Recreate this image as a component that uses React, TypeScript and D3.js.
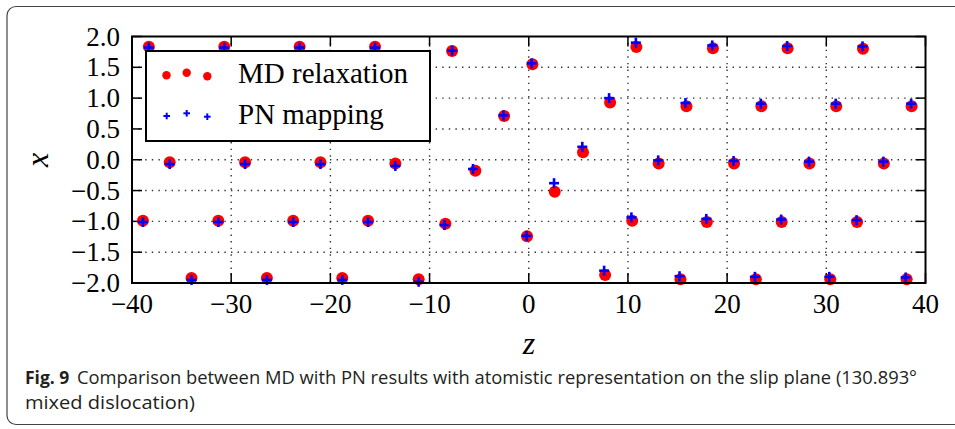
import React from 'react';
import * as d3 from 'd3';

// MD relaxation positions (z, x)
const mdZ = [
	-38.3, -30.7, -23.1, -15.5, 10.85, 18.57, 26.1, 33.7,
	-36.2, -28.6, -21.0, -13.45, 13.1, 20.7, 28.3, 35.8,
	-38.9, -31.3, -23.75, -16.2, -8.4, 10.43, 17.96, 25.5, 33.1,
	-34.0, -26.4, -18.8, -11.1, 7.7, 15.3, 22.9, 30.4, 38.1,
	8.2, 15.9, 23.45, 31.0, 38.6,
	-7.73, 0.37, -2.48, 5.47, -5.38, 2.62, -0.17,
];
const mdX = [
	1.835, 1.835, 1.835, 1.835, 1.83, 1.81, 1.81, 1.8,
	-0.04, -0.04, -0.04, -0.06, -0.06, -0.06, -0.06, -0.06,
	-0.99, -0.99, -0.99, -0.99, -1.04, -0.99, -1.01, -1.01, -1.01,
	-1.92, -1.92, -1.92, -1.94, -1.87, -1.94, -1.94, -1.94, -1.94,
	0.93, 0.87, 0.87, 0.87, 0.87,
	1.765, 1.55, 0.71, 0.12, -0.18, -0.52, -1.24,
];

// PN mapping positions (z, x)
const pnZ = [
	-38.3, -30.7, -23.1, -15.5, 10.8, 18.5, 26.05, 33.65,
	-36.2, -28.6, -21.0, -13.45, 13.05, 20.65, 28.25, 35.75,
	-38.9, -31.3, -23.75, -16.2, -8.5, 10.35, 17.9, 25.45, 33.05,
	-34.0, -26.4, -18.8, -11.1, 7.6, 15.2, 22.8, 30.3, 38.0,
	8.1, 15.8, 23.4, 30.95, 38.55,
	-7.73, 0.3, -2.55, 5.4, -5.62, 2.55, -0.22,
];
const pnX = [
	1.82, 1.82, 1.82, 1.82, 1.9, 1.855, 1.845, 1.84,
	-0.07, -0.07, -0.07, -0.1, -0.01, -0.02, -0.03, -0.03,
	-1.01, -1.01, -1.01, -1.01, -1.06, -0.935, -0.96, -0.97, -0.98,
	-1.95, -1.95, -1.95, -1.98, -1.8, -1.89, -1.9, -1.9, -1.91,
	1.0, 0.92, 0.91, 0.91, 0.91,
	1.77, 1.565, 0.72, 0.21, -0.15, -0.38, -1.235,
];

const zTicks = [-40, -30, -20, -10, 0, 10, 20, 30, 40];
const xTicks = [2.0, 1.5, 1.0, 0.5, 0.0, -0.5, -1.0, -1.5, -2.0];
const seriesNames = ['MD relaxation', 'PN mapping'];

const W = 955;
const H = 429;
const plot = { left: 132, right: 925.5, top: 36.5, bottom: 283 };

const serif = '"Liberation Serif", "DejaVu Serif", serif';
const sans = '"Open Sans", "Noto Sans", sans-serif';

const fmtTick = (v: number, digits: number) =>
	(v < 0 ? '\u2212' : '') + Math.abs(v).toFixed(digits);

function Plus({ cx, cy, s, w }: { cx: number; cy: number; s: number; w: number }) {
	return (
		<g stroke='#0000ff' strokeWidth={w}>
			<line x1={cx - s} x2={cx + s} y1={cy} y2={cy} />
			<line x1={cx} x2={cx} y1={cy - s} y2={cy + s} />
		</g>
	);
}

export default function App() {
	const x = d3.scaleLinear().domain([-40, 40]).range([plot.left, plot.right]);
	const y = d3.scaleLinear().domain([-2, 2]).range([plot.bottom, plot.top]);

	const md = mdZ.map((z, i) => ({ z, v: mdX[i] }));
	const pn = pnZ.map((z, i) => ({ z, v: pnX[i] }));

	const innerZ = zTicks.slice(1, -1);
	const innerX = xTicks.slice(1, -1);
	const tickLen = 10;

	return (
		<svg
			width={W}
			height={H}
			style={{ position: 'absolute', left: 0, top: 0, background: '#fff' }}>
			{/* figure frame */}
			<rect x={7} y={6.5} width={1000} height={418} rx={9} fill='#fff' stroke='#444' strokeWidth={1.2} />

			{/* grid */}
			<g stroke='#333' strokeWidth={1.4} strokeDasharray='1.4,5.2'>
				{innerZ.map((t) => (
					<line key={'gz' + t} x1={x(t)} x2={x(t)} y1={plot.top} y2={plot.bottom} />
				))}
				{innerX.map((t) => (
					<line key={'gx' + t} x1={plot.left} x2={plot.right} y1={y(t)} y2={y(t)} />
				))}
			</g>

			{/* ticks (inward, all sides) */}
			<g stroke='#000' strokeWidth={1.5}>
				{zTicks.map((t) => (
					<g key={'tz' + t}>
						<line x1={x(t)} x2={x(t)} y1={plot.bottom} y2={plot.bottom - tickLen} />
						<line x1={x(t)} x2={x(t)} y1={plot.top} y2={plot.top + tickLen} />
					</g>
				))}
				{xTicks.map((t) => (
					<g key={'tx' + t}>
						<line x1={plot.left} x2={plot.left + tickLen} y1={y(t)} y2={y(t)} />
						<line x1={plot.right} x2={plot.right - tickLen} y1={y(t)} y2={y(t)} />
					</g>
				))}
			</g>

			{/* MD relaxation */}
			<g fill='#ff0000'>
				{md.map((d, i) => (
					<circle key={'md' + i} cx={x(d.z)} cy={y(d.v)} r={6} />
				))}
			</g>

			{/* PN mapping */}
			{pn.map((d, i) => (
				<Plus key={'pn' + i} cx={x(d.z)} cy={y(d.v)} s={5} w={2.6} />
			))}

			{/* axes frame */}
			<rect
				x={plot.left}
				y={plot.top}
				width={plot.right - plot.left}
				height={plot.bottom - plot.top}
				fill='none'
				stroke='#000'
				strokeWidth={2}
			/>

			{/* tick labels */}
			<g fontFamily={serif} fontSize={27} fill='#000'>
				{zTicks.map((t) => (
					<text key={'lz' + t} x={x(t)} y={313} textAnchor='middle'>
						{fmtTick(t, 0)}
					</text>
				))}
				{xTicks.map((t) => (
					<text key={'lx' + t} x={plot.left - 12} y={y(t) + 9} textAnchor='end'>
						{fmtTick(t, 1)}
					</text>
				))}
			</g>

			{/* axis labels */}
			<text x={529} y={354} fontFamily={serif} fontStyle='italic' fontSize={32} textAnchor='middle'>
				z
			</text>
			<text
				transform='translate(48,160) rotate(-90)'
				fontFamily={serif}
				fontStyle='italic'
				fontSize={32}
				textAnchor='middle'>
				x
			</text>

			{/* legend */}
			<g>
				<rect x={146} y={51} width={284} height={90} fill='#fff' stroke='#000' strokeWidth={2} />
				<circle cx={166.5} cy={75.3} r={4.2} fill='#ff0000' />
				<circle cx={186.7} cy={72.7} r={4.2} fill='#ff0000' />
				<circle cx={207.3} cy={76.3} r={4.2} fill='#ff0000' />
				<Plus cx={166.7} cy={116} s={3.3} w={2} />
				<Plus cx={186.7} cy={113.3} s={3.3} w={2} />
				<Plus cx={207.3} cy={116.7} s={3.3} w={2} />
				<text x={238} y={83} fontFamily={serif} fontSize={29}>
					{seriesNames[0]}
				</text>
				<text x={238} y={123.5} fontFamily={serif} fontSize={29}>
					{seriesNames[1]}
				</text>
			</g>

			{/* caption */}
			<g fontFamily={sans} fontSize={17.5} fill='#231f20'>
				<text x={25} y={384}>
					<tspan fontWeight='bold'>Fig. 9</tspan>
				</text>
				<text x={77} y={384} textLength={840} lengthAdjust='spacingAndGlyphs'>
					Comparison between MD with PN results with atomistic representation on the slip plane (130.893°
				</text>
				<text x={25} y={409} textLength={170} lengthAdjust='spacingAndGlyphs'>
					mixed dislocation)
				</text>
			</g>
		</svg>
	);
}
